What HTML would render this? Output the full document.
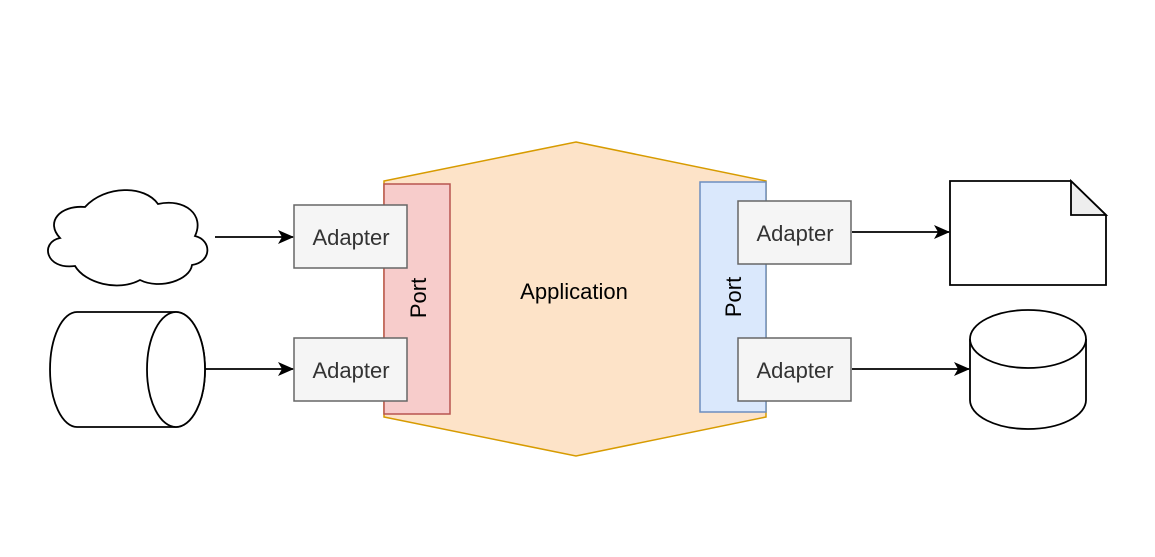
<!DOCTYPE html>
<html><head><style>body{margin:0;background:#fff}svg{display:block}text{font-family:"Liberation Sans",sans-serif}</style></head>
<body>
<svg width="1155" height="557" viewBox="0 0 1155 557">
<defs><marker id="a" markerWidth="16" markerHeight="16" refX="15" refY="8" orient="auto" markerUnits="userSpaceOnUse"><path d="M0,1 L16,8 L0,15 L4,8 Z" fill="#000"/></marker></defs>
<polygon points="576,142 766,181 766,417 576,456 384,417 384,181" fill="#fde3c8" stroke="#d79b00" stroke-width="1.5"/>
<rect x="384" y="184" width="66" height="230" fill="#f7cccb" stroke="#b85450" stroke-width="1.5"/>
<rect x="700" y="182" width="66" height="230" fill="#dae8fc" stroke="#6c8ebf" stroke-width="1.5"/>
<text x="574" y="299" font-size="22" text-anchor="middle">Application</text>
<text transform="translate(426,298) rotate(-90)" font-size="22" text-anchor="middle">Port</text>
<text transform="translate(741,297) rotate(-90)" font-size="22" text-anchor="middle">Port</text>
<g fill="#f5f5f5" stroke="#666" stroke-width="1.5">
<rect x="294" y="205" width="113" height="63"/><rect x="294" y="338" width="113" height="63"/>
<rect x="738" y="201" width="113" height="63"/><rect x="738" y="338" width="113" height="63"/>
</g>
<g font-size="22" fill="#333" text-anchor="middle">
<text x="351" y="245">Adapter</text><text x="351" y="378">Adapter</text>
<text x="795" y="241">Adapter</text><text x="795" y="378">Adapter</text>
</g>
<g fill="#fff" stroke="#000" stroke-width="1.8">
<path d="M85,207 C60,205 45,222 60,238 C40,242 45,270 75,266 C85,283 118,292 140,280 C160,290 190,280 192,265 C212,262 212,240 195,236 C205,215 185,198 158,204 C145,185 105,185 85,207 Z"/>
<path d="M77,312 L176,312 A29,57.5 0 0 1 176,427 L77,427 A27,57.5 0 0 1 77,312 Z"/>
<ellipse cx="176" cy="369.5" rx="29" ry="57.5"/>
<path d="M950,181 L1071,181 L1106,215 L1106,285 L950,285 Z"/>
<path d="M970,339 L970,400 A58,29 0 0 0 1086,400 L1086,339"/>
<ellipse cx="1028" cy="339" rx="58" ry="29"/>
</g>
<path d="M1071,181 L1071,215 L1106,215 Z" fill="#eee" stroke="#000" stroke-width="1.8"/>
<g stroke="#000" stroke-width="1.8" marker-end="url(#a)">
<line x1="215" y1="237" x2="293" y2="237"/>
<line x1="205" y1="369" x2="293" y2="369"/>
<line x1="852" y1="232" x2="949" y2="232"/>
<line x1="852" y1="369" x2="969" y2="369"/>
</g>
</svg>
</body></html>
